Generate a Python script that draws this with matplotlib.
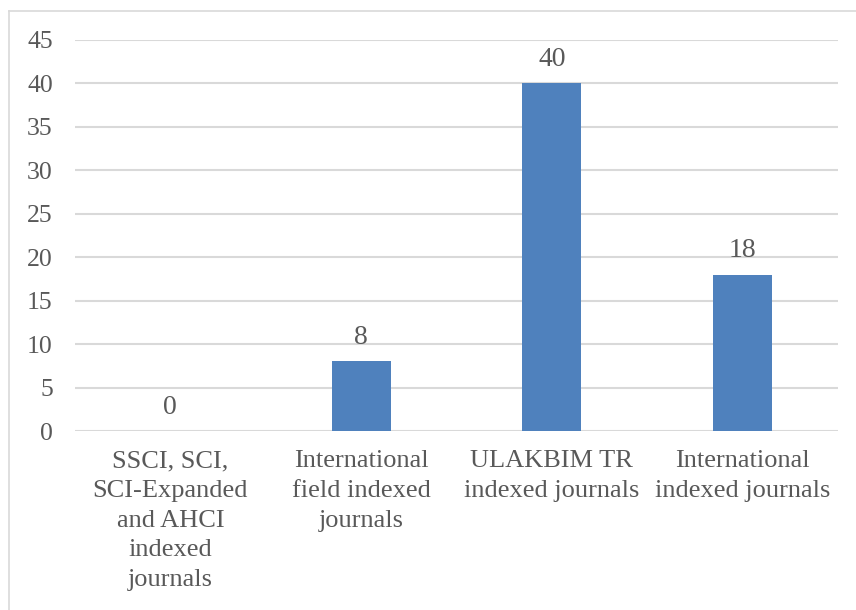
import matplotlib
matplotlib.use("Agg")
import matplotlib.pyplot as plt
from matplotlib.lines import Line2D

categories = [
    "SSCI, SCI,\nSCI-Expanded\nand AHCI\nindexed\njournals",
    "International\nfield indexed\njournals",
    "ULAKBIM TR\nindexed journals",
    "International\nindexed journals",
]
values = [0, 8, 40, 18]
y_ticks = [0, 5, 10, 15, 20, 25, 30, 35, 40, 45]

W, H = 856, 610
fig = plt.figure(figsize=(W / 100, H / 100), dpi=100)
fig.patch.set_facecolor("white")

text_color = "#595959"
bar_color = "#4F81BD"
grid_color = "#D9D9D9"

ax = fig.add_axes([75 / W, (H - 431) / H, (838 - 75) / W, (431 - 40) / H])
x = range(len(categories))
ax.bar(x, values, width=0.31, color=bar_color, zorder=3)
ax.set_xlim(-0.5, len(categories) - 0.5)
ax.set_ylim(0, 45)
ax.set_yticks(y_ticks)
ax.set_yticklabels([str(t) for t in y_ticks], fontfamily="Liberation Serif",
                   fontsize=18.5, color=text_color)
ax.set_xticks(list(x))
ax.set_xticklabels(categories, fontfamily="Liberation Serif", fontsize=19,
                   color=text_color, linespacing=1.45, va="top")
ax.tick_params(axis="both", length=0)
ax.tick_params(axis="y", pad=16)
ax.tick_params(axis="x", pad=14)
for s in ax.spines.values():
    s.set_visible(False)
ax.yaxis.grid(True, color=grid_color, linewidth=1.5, zorder=0)
ax.set_axisbelow(True)

for xi, v in zip(x, values):
    ax.annotate(str(v), (xi, v), xytext=(0, 8), textcoords="offset points",
                ha="center", va="bottom", fontfamily="Liberation Serif",
                fontsize=20, color=text_color)

# chart frame (top and left edges)
fig.add_artist(Line2D([9 / W, 9 / W], [0, (H - 11) / H], color=grid_color,
                      linewidth=1.2, transform=fig.transFigure))
fig.add_artist(Line2D([9 / W, 1], [(H - 11) / H, (H - 11) / H], color=grid_color,
                      linewidth=1.2, transform=fig.transFigure))

fig.savefig("out.png", dpi=100)
